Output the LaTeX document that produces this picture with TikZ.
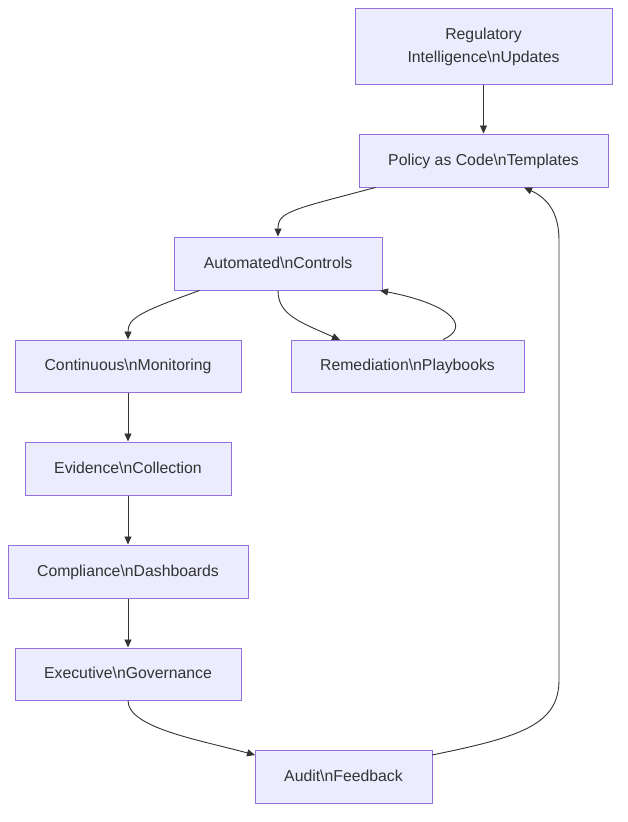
\documentclass[tikz,border=0pt]{standalone}
\usepackage{fontspec}
\setmainfont{Liberation Sans}
\usetikzlibrary{arrows.meta}
\definecolor{boxfill}{HTML}{ECECFF}
\definecolor{boxline}{HTML}{9370DB}
\definecolor{ink}{HTML}{333333}
% box caption: centred lines, set a touch below the geometric centre
\newcommand{\boxtext}[1]{\raisebox{-1.8pt}{\begin{tabular}{@{}c@{}}#1\end{tabular}}}
\begin{document}
\begin{tikzpicture}[x=1pt,y=-1pt,
  box/.style={draw=boxline,fill=boxfill,line width=1pt,rectangle,inner sep=0pt,
    text=ink,font=\fontsize{15.8}{23}\selectfont},
  link/.style={draw=ink,line width=0.9pt,-{Triangle[length=8pt,width=7pt]}}]
\useasboundingbox (0,0) rectangle (628,822);
\fill[white] (0,0) rectangle (628,822);

% process boxes
\node[box,minimum width=257pt,minimum height=76pt] (reg) at (483.5,46) {\boxtext{Regulatory\\Intelligence\textbackslash nUpdates}};
\node[box,minimum width=249pt,minimum height=53pt] (pol) at (483.5,160.5) {\boxtext{Policy as Code\textbackslash nTemplates}};
\node[box,minimum width=208pt,minimum height=53pt] (auto) at (278,263.5) {\boxtext{Automated\textbackslash nControls}};
\node[box,minimum width=226pt,minimum height=52pt] (mon) at (128,366) {\boxtext{Continuous\textbackslash nMonitoring}};
\node[box,minimum width=233pt,minimum height=52pt] (rem) at (407.5,366) {\boxtext{Remediation\textbackslash nPlaybooks}};
\node[box,minimum width=206pt,minimum height=53pt] (evi) at (128,468.5) {\boxtext{Evidence\textbackslash nCollection}};
\node[box,minimum width=240pt,minimum height=53pt] (dash) at (128,571.5) {\boxtext{Compliance\textbackslash nDashboards}};
\node[box,minimum width=226pt,minimum height=52pt] (gov) at (128,674) {\boxtext{Executive\textbackslash nGovernance}};
\node[box,minimum width=177pt,minimum height=53pt] (aud) at (343.5,776.5) {\boxtext{Audit\textbackslash nFeedback}};

% connectors
\draw[link] (reg.south) -- (pol.north);
\draw[link] (pol.south west) ++(17,0) .. controls (290,210) and (278,212) .. (auto.north);
\draw[link] (auto.south west) ++(26,0) .. controls (140,312) and (128,318) .. (mon.north);
\draw[link] (auto.south) .. controls (278,315) and (300,322) .. (340,340);
\draw[link] (rem.north) ++(35.5,0) .. controls (470,328) and (455,305) .. (380,290.5);
\draw[link] (mon.south) -- (evi.north);
\draw[link] (evi.south) -- (dash.north);
\draw[link] (dash.south) -- (gov.north);
\draw[link] (gov.south) .. controls (128,728) and (200,740) .. (255,755);
\draw[link] (432,755) .. controls (520,737) and (559,725) .. (559,680)
  -- (559,240) .. controls (559,210) and (545,197) .. (524,187.5);
\end{tikzpicture}
\end{document}
